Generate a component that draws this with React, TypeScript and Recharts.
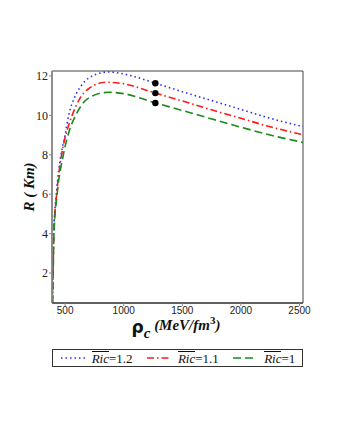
import { ComposedChart, Line, Scatter, XAxis, YAxis, ReferenceArea } from 'recharts';

// R (km) vs central density, three Ric values
const ric12 = [
  { x: 392, y: 0.5 }, { x: 396, y: 2 }, { x: 402, y: 4 }, { x: 425, y: 6 },
  { x: 465, y: 8 }, { x: 500, y: 9.0 }, { x: 530, y: 10 }, { x: 580, y: 10.9 },
  { x: 650, y: 11.6 }, { x: 750, y: 12.05 }, { x: 870, y: 12.2 }, { x: 1000, y: 12.1 },
  { x: 1100, y: 11.95 }, { x: 1270, y: 11.63 }, { x: 1500, y: 11.2 }, { x: 1750, y: 10.75 },
  { x: 2000, y: 10.3 }, { x: 2250, y: 9.85 }, { x: 2530, y: 9.43 },
];
const ric11 = [
  { x: 392, y: 0.5 }, { x: 397, y: 2 }, { x: 403, y: 4 }, { x: 428, y: 6 },
  { x: 470, y: 8 }, { x: 520, y: 9.3 }, { x: 560, y: 10 }, { x: 620, y: 10.8 },
  { x: 700, y: 11.35 }, { x: 850, y: 11.68 }, { x: 1000, y: 11.6 }, { x: 1270, y: 11.13 },
  { x: 1500, y: 10.73 }, { x: 1750, y: 10.28 }, { x: 2000, y: 9.85 }, { x: 2250, y: 9.42 },
  { x: 2530, y: 9.02 },
];
const ric10 = [
  { x: 393, y: 0.5 }, { x: 398, y: 2 }, { x: 405, y: 4 }, { x: 432, y: 6 },
  { x: 485, y: 8 }, { x: 540, y: 9.3 }, { x: 590, y: 10 }, { x: 650, y: 10.6 },
  { x: 720, y: 10.95 }, { x: 870, y: 11.17 }, { x: 1000, y: 11.1 }, { x: 1270, y: 10.63 },
  { x: 1500, y: 10.25 }, { x: 1750, y: 9.82 }, { x: 2000, y: 9.4 }, { x: 2250, y: 9.0 },
  { x: 2530, y: 8.63 },
];
const maxPoints = [
  { x: 1270, y: 11.63 }, { x: 1270, y: 11.13 }, { x: 1270, y: 10.63 },
];
const xTicks = [500, 1000, 1500, 2000, 2500];
const yTicks = [2, 4, 6, 8, 10, 12];

const X_DOMAIN = [388, 2530];
const Y_DOMAIN = [0.48, 12.25];

const series = [
  { label: '1.2', data: ric12, color: '#2b2bff', dash: '1.5 3' },
  { label: '1.1', data: ric11, color: '#ff1a1a', dash: '7 3 1.5 3' },
  { label: '1', data: ric10, color: '#1a8a1a', dash: '8 4' },
];

const serif = '"Liberation Serif", "DejaVu Serif", serif';

const Dot = (props: any) => <circle cx={props.cx} cy={props.cy} r={3.2} fill="#000" />;

export default function App() {
  return (
    <div style={{ position: 'absolute', left: 0, top: 0, width: 340, height: 440, background: '#fff' }}>
      <ComposedChart width={340} height={440} margin={{ top: 71, right: 37, left: 0, bottom: 107 }}>
        <XAxis
          type="number"
          dataKey="x"
          domain={X_DOMAIN}
          ticks={xTicks}
          allowDataOverflow
          height={30}
          tickSize={3}
          tickMargin={1}
          axisLine={{ stroke: '#222' }}
          tickLine={{ stroke: '#888' }}
          tick={{ fontSize: 10, fill: '#222', fontFamily: '"Liberation Sans", sans-serif' }}
        />
        <YAxis
          type="number"
          dataKey="y"
          domain={Y_DOMAIN}
          ticks={yTicks}
          allowDataOverflow
          width={52}
          tickSize={3}
          tickMargin={1}
          axisLine={{ stroke: '#888', strokeWidth: 1.5 }}
          tickLine={{ stroke: '#888' }}
          tick={{ fontSize: 12, fill: '#222', fontFamily: serif }}
        />
        <ReferenceArea x1={X_DOMAIN[0]} x2={X_DOMAIN[1]} y1={Y_DOMAIN[0]} y2={Y_DOMAIN[1]}
          fill="none" stroke="#444" strokeWidth={1} />
        {series.map((s) => (
          <Line key={s.label} data={s.data} dataKey="y" type="monotone" stroke={s.color}
            strokeWidth={1.6} strokeDasharray={s.dash} dot={false} isAnimationActive={false} />
        ))}
        <Scatter data={maxPoints} dataKey="y" fill="#000" shape={Dot} isAnimationActive={false} />
      </ComposedChart>

      <svg width={340} height={440} style={{ position: 'absolute', left: 0, top: 0, pointerEvents: 'none' }}>
        <text transform="translate(34,187) rotate(-90)" textAnchor="middle" fontFamily={serif}
          fontSize={15} fontWeight="bold" fontStyle="italic" fill="#111">R ( Km)</text>
        <text x={176} y={333} textAnchor="middle" fill="#111">
          <tspan fontFamily='"DejaVu Sans", sans-serif' fontWeight="bold" fontSize={17}>ρ</tspan>
          <tspan fontFamily={serif} fontWeight="bold" fontStyle="italic" fontSize={15} dy={5}>c</tspan>
          <tspan fontFamily={serif} fontWeight="bold" fontStyle="italic" fontSize={15} dy={-8}> (MeV/fm</tspan>
          <tspan fontFamily={serif} fontWeight="bold" fontSize={11} dy={-6}>3</tspan>
          <tspan fontFamily={serif} fontWeight="bold" fontStyle="italic" fontSize={15} dy={6}>)</tspan>
        </text>
      </svg>

      <div style={{
        position: 'absolute', left: 52, top: 349, width: 249, height: 16,
        border: '1px solid #333', display: 'flex', alignItems: 'center',
        justifyContent: 'space-around', fontFamily: serif, fontSize: 13, color: '#111',
      }}>
        {series.map((s) => (
          <div key={s.label} style={{ display: 'flex', alignItems: 'center', lineHeight: '13px' }}>
            <svg width={26} height={8} style={{ marginRight: 6 }}>
              <line x1={1} y1={4} x2={25} y2={4} stroke={s.color} strokeWidth={1.6} strokeDasharray={s.dash} />
            </svg>
            <span style={{ fontStyle: 'italic', borderTop: '1.5px solid #111', paddingTop: 0 }}>Ric</span>
            <span style={{ marginTop: 1.5 }}>={s.label}</span>
          </div>
        ))}
      </div>
    </div>
  );
}
